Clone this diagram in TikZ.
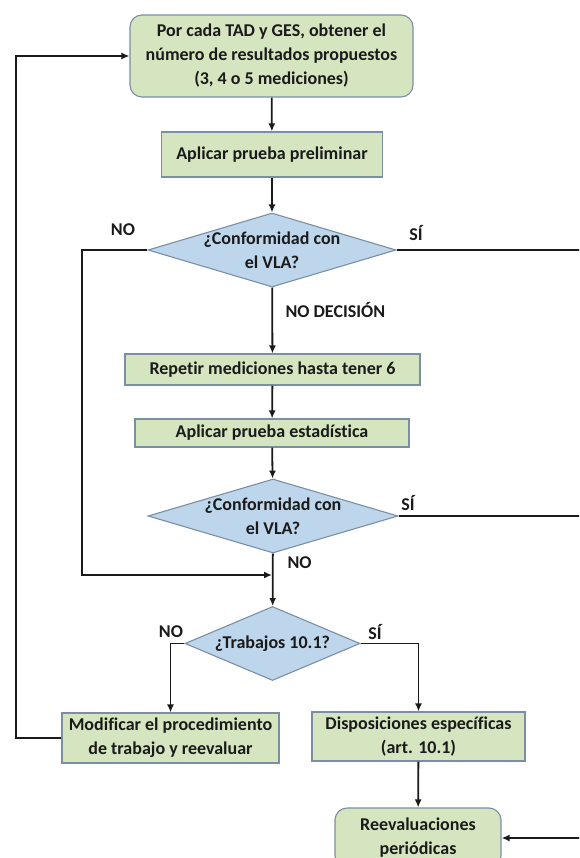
\documentclass[tikz,border=0pt]{standalone}
\usepackage{fontspec}
\setmainfont{Carlito}[Ligatures=NoCommon]
\usetikzlibrary{shapes.geometric,arrows.meta}

\definecolor{boxgreen}{HTML}{D5E5C0}
\definecolor{boxblue}{HTML}{BED6EC}
\definecolor{boxedge}{HTML}{7A8FA3}
\definecolor{ink}{HTML}{1A1A1A}

\tikzset{
  txt/.style={font=\bfseries\fontsize{18}{24}\selectfont, text=ink, align=center},
  procbox/.style={txt, draw=boxedge, line width=1.1pt, fill=boxgreen, inner sep=0pt},
  roundbox/.style={procbox, rounded corners=12pt},
  decision/.style={txt, shape=diamond, draw=boxedge, line width=1.1pt, fill=boxblue, inner sep=-4pt},
  lbl/.style={txt},
  flow/.style={draw=ink, line width=1.8pt, -{Latex[length=8pt,width=7pt]}},
  plain/.style={draw=ink, line width=1.8pt}
}

\begin{document}
\begin{tikzpicture}[x=1pt,y=-1pt]
\useasboundingbox (0,0) rectangle (579,858);
\clip (0,0) rectangle (579,858);

\node[roundbox, minimum width=283, minimum height=82] (obtener) at (271.5,56) {Por cada TAD y GES, obtener el\\número de resultados propuestos\\(3, 4 o 5 mediciones)};
\node[procbox, minimum width=221, minimum height=45] (prelim) at (272,154.5) {Aplicar prueba preliminar};
\node[decision, aspect=3.35, minimum width=248, minimum height=74] (conf1) at (272,250) {¿Conformidad con\\el VLA?};
\node[procbox, minimum width=295, minimum height=31] (repetir) at (272.5,369.5) {Repetir mediciones hasta tener 6};
\node[procbox, minimum width=274, minimum height=28] (estad) at (272,433) {Aplicar prueba estadística};
\node[decision, aspect=3.35, minimum width=250, minimum height=74] (conf2) at (273,516) {¿Conformidad con\\el VLA?};
\node[decision, aspect=2.36, inner sep=0pt, minimum width=175, minimum height=74] (trab) at (272.5,643.5) {¿Trabajos 10.1?};
\node[procbox, minimum width=217, minimum height=50] (modif) at (170.5,738) {Modificar el procedimiento\\de trabajo y reevaluar};
\node[procbox, minimum width=213, minimum height=49] (dispo) at (418.5,736.5) {Disposiciones específicas\\(art. 10.1)};
\node[roundbox, minimum width=166, minimum height=60] (reeval) at (418,838) {Reevaluaciones\\periódicas};

\node[lbl] (no1) at (123,230) {NO};
\node[lbl] (si1) at (416,233) {SÍ};
\node[lbl, anchor=west] (nodec) at (282,310) {NO DECISIÓN};
\node[lbl] (si2) at (408,503) {SÍ};
\node[lbl, anchor=west] (no2) at (284,563) {NO};
\node[lbl] (no3) at (171,632) {NO};
\node[lbl] (si3) at (375,632) {SÍ};

\coordinate (join) at (272,575);
\coordinate (leftbus) at (82,575);
\coordinate (back) at (16,738);
\coordinate (rail) at (595,0);

\draw[flow] (obtener) -- (prelim);
\draw[flow] (prelim) -- (conf1);
\draw[flow] (conf1) -- (repetir);
\draw[flow] (repetir) -- (estad);
\draw[flow] (estad) -- (conf2);
\draw[flow] (conf2) -- (trab);
\draw[flow] (conf1.west) -| (leftbus) -- (join);
\draw[flow] (trab.west) -| (modif.north);
\draw[flow] (trab.east) -| (dispo.north);
\draw[flow] (dispo) -- (reeval);
\draw[flow] (modif.west) -- (back) |- (obtener.west);
\draw[flow] (conf1.east) -- (conf1.east -| rail) -- (rail |- reeval.east) -- (reeval.east);
\draw[plain] (conf2.east) -- (conf2.east -| rail);
\end{tikzpicture}
\end{document}
